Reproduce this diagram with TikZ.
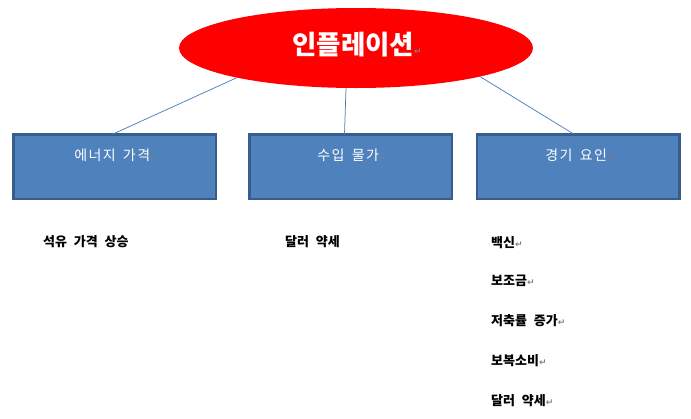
\documentclass[tikz,border=0pt]{standalone}
\usepackage{fontspec}
\usetikzlibrary{shapes.geometric}
\newfontfamily\krfont[WordSpace=2.3]{Noto Sans CJK KR}
\newfontfamily\krboxfont[WordSpace=1.6,LetterSpace=10]{Noto Sans CJK KR}
\newfontfamily\markfont{DejaVu Sans}
\definecolor{boxfill}{RGB}{79,129,189}
\definecolor{boxline}{RGB}{56,93,138}
\definecolor{connline}{RGB}{79,129,189}
\definecolor{markgray}{RGB}{128,128,128}
\newcommand{\pmk}{{\markfont\fontsize{9}{9}\selectfont\color{markgray}↵}}
\begin{document}
\begin{tikzpicture}[x=1pt,y=-1pt,
  titleell/.style={ellipse, fill=red, draw=none, minimum width=354pt, minimum height=80pt, inner sep=0pt},
  titletxt/.style={inner sep=0pt, text=white, font=\krfont\bfseries\fontsize{26.5}{28}\selectfont},
  catbox/.style={rectangle, fill=boxfill, draw=boxline, line width=2.5pt, minimum width=202.5pt, minimum height=64.5pt, inner sep=0pt},
  cattxt/.style={inner sep=0pt, text=white, font=\krboxfont\fontsize{14}{16}\selectfont},
  conn/.style={draw=connline, line width=0.75pt},
  itemtxt/.style={anchor=west, inner sep=0pt, text=black, font=\krfont\bfseries\fontsize{13}{14}\selectfont}
]
\useasboundingbox[fill=white] (0,0) rectangle (691,418);

\node[titleell] (ell) at (356,48) {};
\node[titletxt] (title) at (357,45) {인플레이션\pmk};

\node[catbox] (b1) at (114.5,166.5) {};
\node[catbox] (b2) at (350.5,166.5) {};
\node[catbox] (b3) at (578,166.5) {};

\node[cattxt] (t1) at (116,155.5) {에너지 가격\pmk};
\node[cattxt] (t2) at (352,155.5) {수입 물가\pmk};
\node[cattxt] (t3) at (580,155.5) {경기 요인\pmk};

\draw[conn] (ell.194) -- ([xshift=-2pt,yshift=-1.25pt]b1.north);
\draw[conn] (ell.256) -- ([xshift=-6pt,yshift=-1.25pt]b2.north);
\draw[conn] (ell.347) -- ([xshift=-4pt,yshift=-1.25pt]b3.north);

\node[itemtxt] (i1) at (43,242) {석유 가격 상승};
\node[itemtxt] (i2) at (285,242) {달러 약세};
\node[itemtxt] (r1) at (491,242.5) {백신\pmk};
\node[itemtxt] (r2) at (491,281) {보조금\pmk};
\node[itemtxt] (r3) at (491,321) {저축률 증가\pmk};
\node[itemtxt] (r4) at (491,361) {보복소비\pmk};
\node[itemtxt] (r5) at (491,401) {달러 약세\pmk};
\end{tikzpicture}
\end{document}
